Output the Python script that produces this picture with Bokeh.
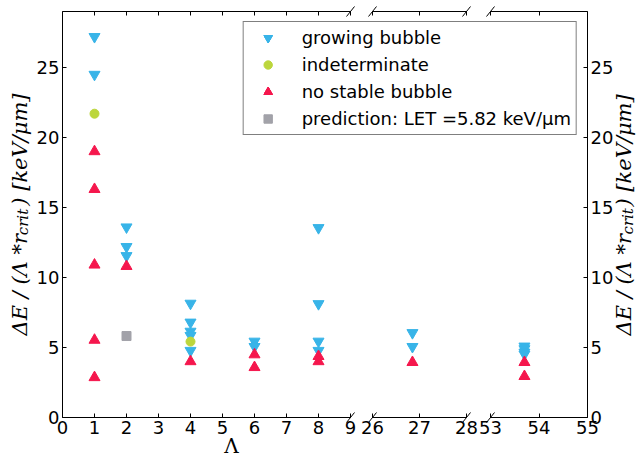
import math
from bokeh.plotting import figure
from bokeh.models import (Range1d, LinearAxis, FixedTicker, Legend, LegendItem,
                          Arrow, Label, ColumnDataSource, GridBox, Column)
from bokeh.embed import file_html
from bokeh.resources import INLINE

# ---------------- data ----------------
grow_lam = [1, 1, 2, 2, 2, 4, 4, 4, 4, 4, 6, 6, 8, 8, 8, 8,
            26.85, 26.85, 53.7, 53.7, 53.7, 53.7]
grow_val = [27.2, 24.5, 13.6, 12.2, 11.55, 8.15, 6.8, 6.15, 5.85, 4.78,
            5.44, 5.06, 13.55, 8.12, 5.44, 4.78, 6.05, 5.06, 5.09, 4.9, 4.66, 4.52]
indet_lam = [1, 4]
indet_val = [21.7, 5.42]
nostab_lam = [1, 1, 1, 1, 1, 2, 4, 6, 6, 8, 8, 26.85, 53.7, 53.7]
nostab_val = [19.0, 16.3, 10.9, 5.53, 2.86, 10.8, 4.0, 4.49, 3.58, 4.37, 4.0,
              3.94, 3.94, 2.94]
pred_lam = [2]
pred_val = [5.82]

seg_bounds = [(0, 9), (26, 28), (53, 55)]
seg_ticks = [[0, 1, 2, 3, 4, 5, 6, 7, 8, 9], [26, 27, 28], [53, 54, 55]]
y_ticks = [0, 5, 10, 15, 20, 25]
y_max = 29

series_labels = ["growing bubble", "indeterminate", "no stable bubble",
                 "prediction: LET =5.82 keV/μm"]
y_title = ["ΔE / (Λ *r", "crit", ") [keV/μm]"]
x_title = "Λ"

# ---------------- styling / geometry ----------------
BLUE, GREEN, RED, GRAY = "#38b4e8", "#bcd63c", "#f5174d", "#a2a2a9"
W, H = 636, 458
BL, BR, BT, BB = 62, 49, 11, 41
FRAME_W = W - BL - BR
FRAME_H = H - BT - BB
SEG_PX = [(0, 288), (310, 404), (428, 525)]
FONT = "DejaVu Sans"
SFONT = "DejaVu Serif"
GAP = "\u2003\u2005\u200a"      # room for the subscript inside the title
SUB_PAD = "\u2003"              # shifts the subscript to sit in that gap

range_names = ["default", "seg2", "seg3"]
ranges, scales = [], []
for (a, b), (p0, p1) in zip(seg_bounds, SEG_PX):
    scale = (p1 - p0) / (b - a)
    start = a - p0 / scale
    ranges.append(Range1d(start, start + FRAME_W / scale))
    scales.append(scale)

p = figure(width=W, height=H, x_range=ranges[0], y_range=Range1d(0, y_max),
           x_axis_type=None, y_axis_type=None, output_backend="svg",
           toolbar_location=None, min_border_left=BL, min_border_right=BR,
           min_border_top=BT, min_border_bottom=BB, outline_line_color=None,
           background_fill_color="white", border_fill_color="white")
p.extra_x_ranges = {"seg2": ranges[1], "seg3": ranges[2]}


def style_axis(ax, labels=True, ticks=True):
    ax.major_tick_in = 4 if ticks else 0
    ax.major_tick_out = 0
    ax.minor_tick_in = 0
    ax.minor_tick_out = 0
    ax.axis_line_color = "black"
    ax.axis_line_width = 1
    ax.major_tick_line_color = "black"
    ax.major_label_text_font = FONT
    ax.major_label_text_font_size = "18px" if labels else "1px"
    ax.major_label_text_color = "black" if labels else None
    ax.major_label_standoff = 3 if labels else 0


def style_title(ax, size, standoff, italic=True):
    ax.axis_label_text_font = SFONT
    ax.axis_label_text_font_style = "italic" if italic else "normal"
    ax.axis_label_text_font_size = size
    ax.axis_label_text_color = "black"
    ax.axis_label_standoff = standoff


main_title = y_title[0] + GAP + y_title[2]
sub_title = y_title[1] + SUB_PAD

# left y axis: ticks + main title, then an empty axis carrying the subscript
ax = LinearAxis(ticker=FixedTicker(ticks=y_ticks), axis_label=main_title)
style_axis(ax)
style_title(ax, "21px", 2)
p.add_layout(ax, "left")
axs = LinearAxis(ticker=FixedTicker(ticks=[]), axis_label=sub_title)
style_axis(axs, labels=False, ticks=False)
axs.axis_line_color = None
style_title(axs, "15px", -27)
p.add_layout(axs, "left")

# right y axis (its title is drawn on the overlay below)
ax = LinearAxis(ticker=FixedTicker(ticks=y_ticks))
style_axis(ax)
p.add_layout(ax, "right")

# x spines: one bounded line per segment, bottom and top
for side in ("below", "above"):
    for i in range(3):
        ax = LinearAxis(x_range_name=range_names[i], bounds=seg_bounds[i],
                        ticker=FixedTicker(ticks=[]))
        style_axis(ax, labels=False, ticks=False)
        p.add_layout(ax, side)

# x ticks + labels of all segments on one axis (positions in segment-1 units)
tick_pos, tick_lab = [], []
for i in range(3):
    a = seg_bounds[i][0]
    for t in seg_ticks[i]:
        px = SEG_PX[i][0] + (t - a) * scales[i]
        tick_pos.append(ranges[0].start + px / scales[0])
        tick_lab.append(str(t))
overrides = {pos: lab for pos, lab in zip(tick_pos, tick_lab)}
for side, lab in (("below", True), ("above", False)):
    ax = LinearAxis(ticker=FixedTicker(ticks=tick_pos),
                    major_label_overrides=overrides)
    style_axis(ax, labels=lab)
    ax.axis_line_color = None
    p.add_layout(ax, side)

# data
series = [
    (series_labels[0], grow_lam, grow_val, "inverted_triangle", BLUE, 11),
    (series_labels[1], indet_lam, indet_val, "circle", GREEN, 9),
    (series_labels[2], nostab_lam, nostab_val, "triangle", RED, 11),
    (series_labels[3], pred_lam, pred_val, "square", GRAY, 9),
]
items = []
for label, lams, vals, marker, color, size in series:
    rends = []
    for i, (a, b) in enumerate(seg_bounds):
        idx = [k for k, l in enumerate(lams) if a <= l <= b]
        if not idx:
            continue
        src = ColumnDataSource(dict(x=[lams[k] for k in idx], y=[vals[k] for k in idx]))
        r = p.scatter("x", "y", source=src, marker=marker, size=size,
                      fill_color=color, line_color=color,
                      x_range_name=range_names[i])
        rends.append(r)
    items.append(LegendItem(label=label, renderers=rends))

legend = Legend(items=items, location="top_right", margin=10, padding=5,
                spacing=6, glyph_width=38, glyph_height=21, label_height=21,
                label_standoff=15, label_text_font=FONT,
                label_text_font_size="18px", label_text_color="black",
                border_line_color="black", border_line_width=1,
                background_fill_color="white", background_fill_alpha=1)
p.add_layout(legend)

# ---------------- transparent overlay: break marks, right title, x title ----------------
ov = figure(width=W, height=H, x_range=Range1d(0, W), y_range=Range1d(0, H),
            x_axis_type=None, y_axis_type=None, output_backend="svg",
            toolbar_location=None, min_border_left=0, min_border_right=0,
            min_border_top=0, min_border_bottom=0, outline_line_color=None,
            background_fill_color=None, border_fill_color=None)
for xpx in (SEG_PX[0][1], SEG_PX[1][0], SEG_PX[1][1], SEG_PX[2][0]):
    for ypg in (BT, BT + FRAME_H):
        cx, cy = BL + xpx, H - ypg
        ov.add_layout(Arrow(end=None, x_start=cx - 4, y_start=cy - 5,
                            x_end=cx + 4, y_end=cy + 5, start_units="screen",
                            end_units="screen", line_color="black", line_width=1))


def put(text, px, py, size, angle=math.pi / 2, align="left", style="italic"):
    ov.add_layout(Label(x=px, y=H - py, x_units="screen", y_units="screen",
                        text=text, angle=angle, text_align=align,
                        text_baseline="alphabetic", text_font=SFONT,
                        text_font_style=style, text_font_size=size,
                        text_color="black"))


put(y_title[0], 623.5, 335, "21px")
put(y_title[1], 627.3, 234, "15px")
put(y_title[2], 623.5, 206, "21px")
put(x_title, 231, 445, "20px", angle=0, align="center", style="normal")

layout = GridBox(children=[(p, 0, 0), (Column(children=[ov]), 0, 0)])
open("out.html", "w").write(file_html(layout, INLINE))
